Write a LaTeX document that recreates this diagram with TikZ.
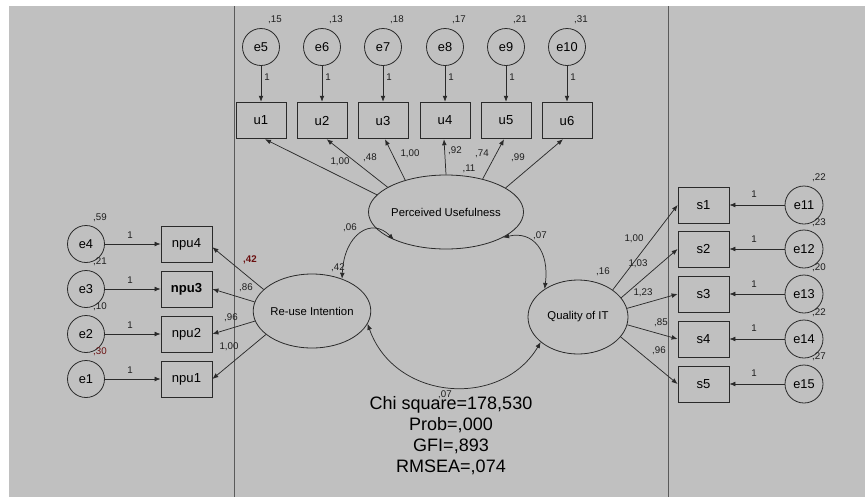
\documentclass[tikz,border=0pt]{standalone}
\usepackage{fontspec}
\setmainfont{Liberation Sans}
\usetikzlibrary{arrows.meta,shapes.geometric}
\definecolor{bg}{HTML}{C0C0C0}
\definecolor{ln}{HTML}{2A2A2A}
\definecolor{sep}{HTML}{5A5A5A}
\definecolor{lab}{HTML}{1E1E1E}
\definecolor{dred}{HTML}{6A1010}
\begin{document}
\begin{tikzpicture}[x=0.75pt,y=-0.75pt,
  errc/.style={circle, draw=ln, line width=0.6pt, minimum size=27.75pt, inner sep=0pt, font=\fontsize{9.6}{10}\selectfont},
  obsbox/.style={rectangle, draw=ln, line width=0.6pt, minimum width=37.5pt, minimum height=27.5pt, inner sep=0pt, font=\fontsize{9.8}{10}\selectfont},
  latent/.style={ellipse, draw=ln, line width=0.6pt, minimum width=75pt, minimum height=55.5pt, inner sep=0pt, font=\fontsize{8.5}{9}\selectfont},
  coef/.style={inner sep=0.3pt, font=\fontsize{7.3}{8}\selectfont, text=lab},
  rpath/.style={draw=ln, line width=0.55pt, -{Latex[length=4.5pt,width=3.6pt]}},
  cov/.style={draw=ln, line width=0.55pt, {Latex[length=4.5pt,width=3.6pt]}-{Latex[length=4.5pt,width=3.6pt]}},
  fitstat/.style={font=\fontsize{13.5}{15.75}\selectfont, align=center, inner sep=0pt}
]
\useasboundingbox (0,0) rectangle (865,497);
\fill[white] (0,0) rectangle (865,497);
\fill[bg] (9,6) rectangle (865,497);
\draw[sep, line width=0.75pt] (234,6) -- (234,497);
\draw[sep, line width=0.75pt] (668,6) -- (668,497);

% top error terms and items
\node[errc] (e5) at (261,47) {e5};
\node[errc] (e6) at (322,47) {e6};
\node[errc] (e7) at (383,47) {e7};
\node[errc] (e8) at (445,47) {e8};
\node[errc] (e9) at (506,47) {e9};
\node[errc] (e10) at (567,47) {e10};
\node[obsbox] (u1) at (261,120.5) {u1};
\node[obsbox] (u2) at (322,120.5) {u2};
\node[obsbox] (u3) at (383,120.5) {u3};
\node[obsbox] (u4) at (445,120.5) {u4};
\node[obsbox] (u5) at (506,120.5) {u5};
\node[obsbox] (u6) at (567,120.5) {u6};
\foreach \a/\b in {e5/u1,e6/u2,e7/u3,e8/u4,e9/u5,e10/u6}{\draw[rpath] (\a) -- (\b);}
\node[coef] (v5) at (275,20) {,15};
\node[coef] (v6) at (336,20) {,13};
\node[coef] (v7) at (397,20) {,18};
\node[coef] (v8) at (459,20) {,17};
\node[coef] (v9) at (520,20) {,21};
\node[coef] (v10) at (581,20) {,31};
\node[coef] (o5) at (267,77) {1};
\node[coef] (o6) at (328,77) {1};
\node[coef] (o7) at (389,77) {1};
\node[coef] (o8) at (451,77) {1};
\node[coef] (o9) at (512,77) {1};
\node[coef] (o10) at (573,77) {1};

% latent variables
\node[latent] (PU) at (446,212) {Perceived Usefulness};
\node[latent] (RI) at (312,311) {Re-use Intention};
\node[latent] (QIT) at (578,317) {Quality of IT};

% PU loadings
\draw[rpath] (PU.166) -- ([xshift=3pt]u1.south);
\draw[rpath] (PU.157) -- ([xshift=3.5pt]u2.south);
\draw[rpath] (PU.142) -- ([xshift=1.5pt]u3.south);
\draw[rpath] (PU.90) -- ([xshift=-0.75pt]u4.south);
\draw[rpath] (PU.42) -- ([xshift=-1.5pt]u5.south);
\draw[rpath] (PU.22) -- ([xshift=-3pt]u6.south);
\node[coef] (l1) at (340,162) {1,00};
\node[coef] (l2) at (370,158) {,48};
\node[coef] (l3) at (410,154) {1,00};
\node[coef] (l4) at (455,151) {,92};
\node[coef] (l5) at (482,154) {,74};
\node[coef] (l6) at (518,158) {,99};
\node[coef] (vPU) at (469,169) {,11};

% left error terms and items
\node[errc] (e4) at (86,244) {e4};
\node[errc] (e3) at (86,289) {e3};
\node[errc] (e2) at (86,334) {e2};
\node[errc] (e1) at (86,379) {e1};
\node[obsbox, minimum width=38.25pt, minimum height=27pt] (npu4) at (186.5,244) {npu4};
\node[obsbox, minimum width=38.25pt, minimum height=27pt, font=\fontsize{9.8}{10}\bfseries] (npu3) at (186.5,289) {npu3};
\node[obsbox, minimum width=38.25pt, minimum height=27pt] (npu2) at (186.5,334) {npu2};
\node[obsbox, minimum width=38.25pt, minimum height=27pt] (npu1) at (186.5,379) {npu1};
\foreach \a/\b in {e4/npu4,e3/npu3,e2/npu2,e1/npu1}{\draw[rpath] (\a) -- (\b);}
\node[coef] (ol4) at (130,235) {1};
\node[coef] (ol3) at (130,280) {1};
\node[coef] (ol2) at (130,325) {1};
\node[coef] (ol1) at (130,370) {1};
\node[coef] (v4) at (100,218) {,59};
\node[coef] (v3) at (100,262) {,21};
\node[coef] (v2) at (100,307) {,10};
\node[coef, text=dred] (v1) at (100,352) {,30};

% RI loadings
\draw[rpath] (RI.156) -- (npu4.-7);
\draw[rpath] (RI.171) -- (npu3.east);
\draw[rpath] (RI.190) -- (npu2.east);
\draw[rpath] (RI.207) -- (npu1.east);
\node[coef, text=dred, font=\fontsize{7.3}{8}\bfseries] (r4) at (250,260) {,42};
\node[coef] (r3) at (246,288) {,86};
\node[coef] (r2) at (231,318) {,96};
\node[coef] (r1) at (229,347) {1,00};
\node[coef] (vRI) at (338,268) {,42};

% right items and error terms
\node[obsbox, minimum width=38.25pt, minimum height=27pt] (s1) at (703.5,205) {s1};
\node[obsbox, minimum width=38.25pt, minimum height=27pt] (s2) at (703.5,249) {s2};
\node[obsbox, minimum width=38.25pt, minimum height=27pt] (s3) at (703.5,294) {s3};
\node[obsbox, minimum width=38.25pt, minimum height=27pt] (s4) at (703.5,339) {s4};
\node[obsbox, minimum width=38.25pt, minimum height=27pt] (s5) at (703.5,384) {s5};
\node[errc, minimum size=28.5pt] (e11) at (804,205) {e11};
\node[errc, minimum size=28.5pt] (e12) at (804,249) {e12};
\node[errc, minimum size=28.5pt] (e13) at (804,294) {e13};
\node[errc, minimum size=28.5pt] (e14) at (804,339) {e14};
\node[errc, minimum size=28.5pt] (e15) at (804,384) {e15};
\foreach \a/\b in {e11/s1,e12/s2,e13/s3,e14/s4,e15/s5}{\draw[rpath] (\a) -- (\b);}
\node[coef] (or1) at (754,194) {1};
\node[coef] (or2) at (754,239) {1};
\node[coef] (or3) at (754,284) {1};
\node[coef] (or4) at (754,328) {1};
\node[coef] (or5) at (754,373) {1};
\node[coef] (v11) at (819,178) {,22};
\node[coef] (v12) at (819,223) {,23};
\node[coef] (v13) at (819,268) {,20};
\node[coef] (v14) at (819,313) {,22};
\node[coef] (v15) at (819,357) {,27};

% QIT loadings
\draw[rpath] (QIT.38) -- (s1.west);
\draw[rpath] (QIT.24) -- (s2.west);
\draw[rpath] (QIT.10) -- (s3.west);
\draw[rpath] (QIT.-9) -- (s4.west);
\draw[rpath] (QIT.-25) -- (s5.west);
\node[coef] (q1) at (634,239) {1,00};
\node[coef] (q2) at (638,264) {1,03};
\node[coef] (q3) at (643,293) {1,23};
\node[coef] (q4) at (661,323) {,85};
\node[coef] (q5) at (659,351) {,96};
\node[coef] (vQIT) at (603,272) {,16};

% covariances
\draw[cov] (RI.47) .. controls +(2,-45) and +(-22,-23) .. (PU.208);
\draw[cov] (PU.336) .. controls +(30,-7) and +(5,-38) .. (QIT.140);
\draw[cov] (RI.347) .. controls +(27,77) and +(-40,67) .. (QIT.214);
\node[coef] (c1) at (350,228) {,06};
\node[coef] (c2) at (540,236) {,07};
\node[coef] (c3) at (445,395) {,07};

% fit statistics
\node[fitstat] (fit) at (451,436) {Chi square=178,530\\Prob=,000\\GFI=,893\\RMSEA=,074};
\end{tikzpicture}
\end{document}
